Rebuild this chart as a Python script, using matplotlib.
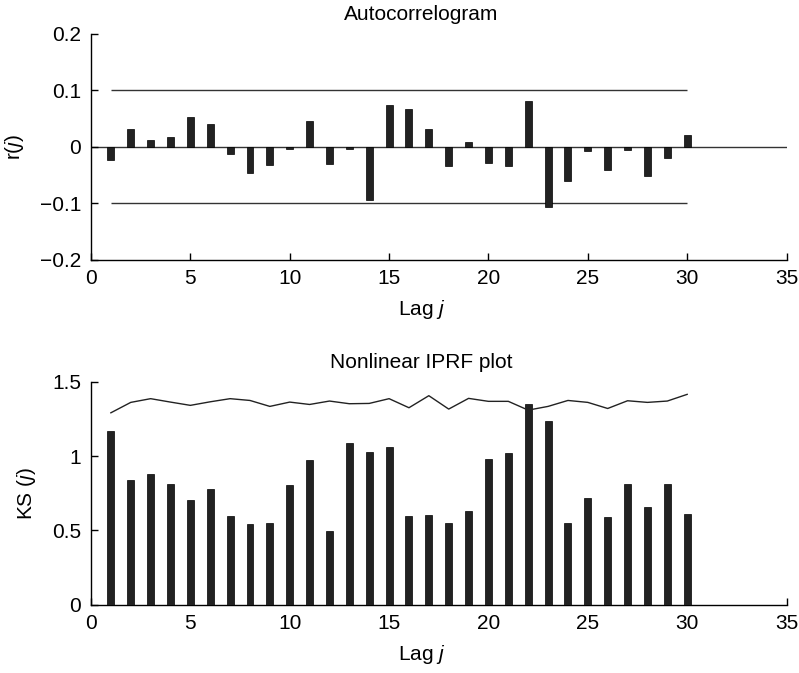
import matplotlib
matplotlib.use("Agg")
import matplotlib.pyplot as plt
import numpy as np

plt.rcParams['font.family'] = ['Liberation Sans', 'DejaVu Sans']
plt.rcParams['mathtext.fontset'] = 'custom'
plt.rcParams['mathtext.rm'] = 'Liberation Sans'
plt.rcParams['mathtext.it'] = 'Liberation Sans:italic'
plt.rcParams['font.size'] = 15

# Lags and sample autocorrelations of the residuals
lags = list(range(1, 31))
acf = [-0.023, 0.031, 0.012, 0.016, 0.053, 0.039, -0.013, -0.046, -0.033, -0.004,
       0.046, -0.031, -0.005, -0.094, 0.074, 0.066, 0.031, -0.035, 0.008, -0.029,
       -0.035, 0.081, -0.107, -0.061, -0.008, -0.042, -0.007, -0.052, -0.021, 0.020]
conf_limit = 0.1

# Kolmogorov-Smirnov statistics per lag and their critical values
ks = [1.168, 0.842, 0.876, 0.811, 0.705, 0.775, 0.600, 0.543, 0.552, 0.806,
      0.975, 0.499, 1.091, 1.026, 1.060, 0.597, 0.604, 0.550, 0.627, 0.981,
      1.022, 1.350, 1.235, 0.548, 0.721, 0.591, 0.815, 0.658, 0.811, 0.613]
ks_crit = [1.291, 1.361, 1.386, 1.363, 1.341, 1.365, 1.386, 1.374, 1.334, 1.363,
           1.347, 1.370, 1.352, 1.354, 1.386, 1.325, 1.406, 1.316, 1.388, 1.368,
           1.368, 1.309, 1.334, 1.374, 1.361, 1.320, 1.372, 1.361, 1.370, 1.415]

xticks = [0, 5, 10, 15, 20, 25, 30, 35]
acf_ticks = [0.2, 0.1, 0, -0.1, -0.2]
acf_ticklabels = ['0.2', '0.1', '0', '\u22120.1', '\u22120.2']
ks_ticks = [0, 0.5, 1, 1.5]
ks_ticklabels = ['0', '0.5', '1', '1.5']

fig = plt.figure(figsize=(7.99, 6.73), dpi=100)
ax1 = fig.add_axes([0.1139, 0.6144, 0.8705, 0.3358])
ax2 = fig.add_axes([0.1139, 0.1015, 0.8705, 0.3313])

bar_kw = dict(width=0.35, color='#222222', edgecolor='black', linewidth=0.5, zorder=3)

def style(ax):
    for s in ['top', 'right']:
        ax.spines[s].set_visible(False)
    for s in ['left', 'bottom']:
        ax.spines[s].set_linewidth(1.0)
    ax.tick_params(direction='in', length=5, width=1.0, pad=7)
    ax.set_xlim(0, 35)
    ax.set_xticks(xticks)

# Autocorrelogram
ax1.axhline(0, color='#333333', lw=1.0, zorder=1)
ax1.hlines([conf_limit, -conf_limit], lags[0], lags[-1], color='#333333', lw=1.0, zorder=1)
ax1.bar(lags, acf, **bar_kw)
style(ax1)
ax1.set_ylim(-0.2, 0.2)
ax1.set_yticks(acf_ticks)
ax1.set_yticklabels(acf_ticklabels)
ax1.set_title('Autocorrelogram', fontsize=15, pad=10, x=0.475)
ax1.set_xlabel('Lag $\\mathit{j}$', labelpad=7, x=0.476)
ax1.set_ylabel('r($\\mathit{j}$)', labelpad=10)

# Nonlinear IPRF plot
ax2.bar(lags, ks, **bar_kw)
ax2.plot(lags, ks_crit, color='#222222', lw=1.0, zorder=4)
style(ax2)
ax2.set_ylim(0, 1.5)
ax2.set_yticks(ks_ticks)
ax2.set_yticklabels(ks_ticklabels)
ax2.set_title('Nonlinear IPRF plot', fontsize=15, pad=10, x=0.475)
ax2.set_xlabel('Lag $\\mathit{j}$', labelpad=7, x=0.476)
ax2.set_ylabel('KS ($\\mathit{j}$)', labelpad=10)

fig.savefig('out.png', dpi=100)
